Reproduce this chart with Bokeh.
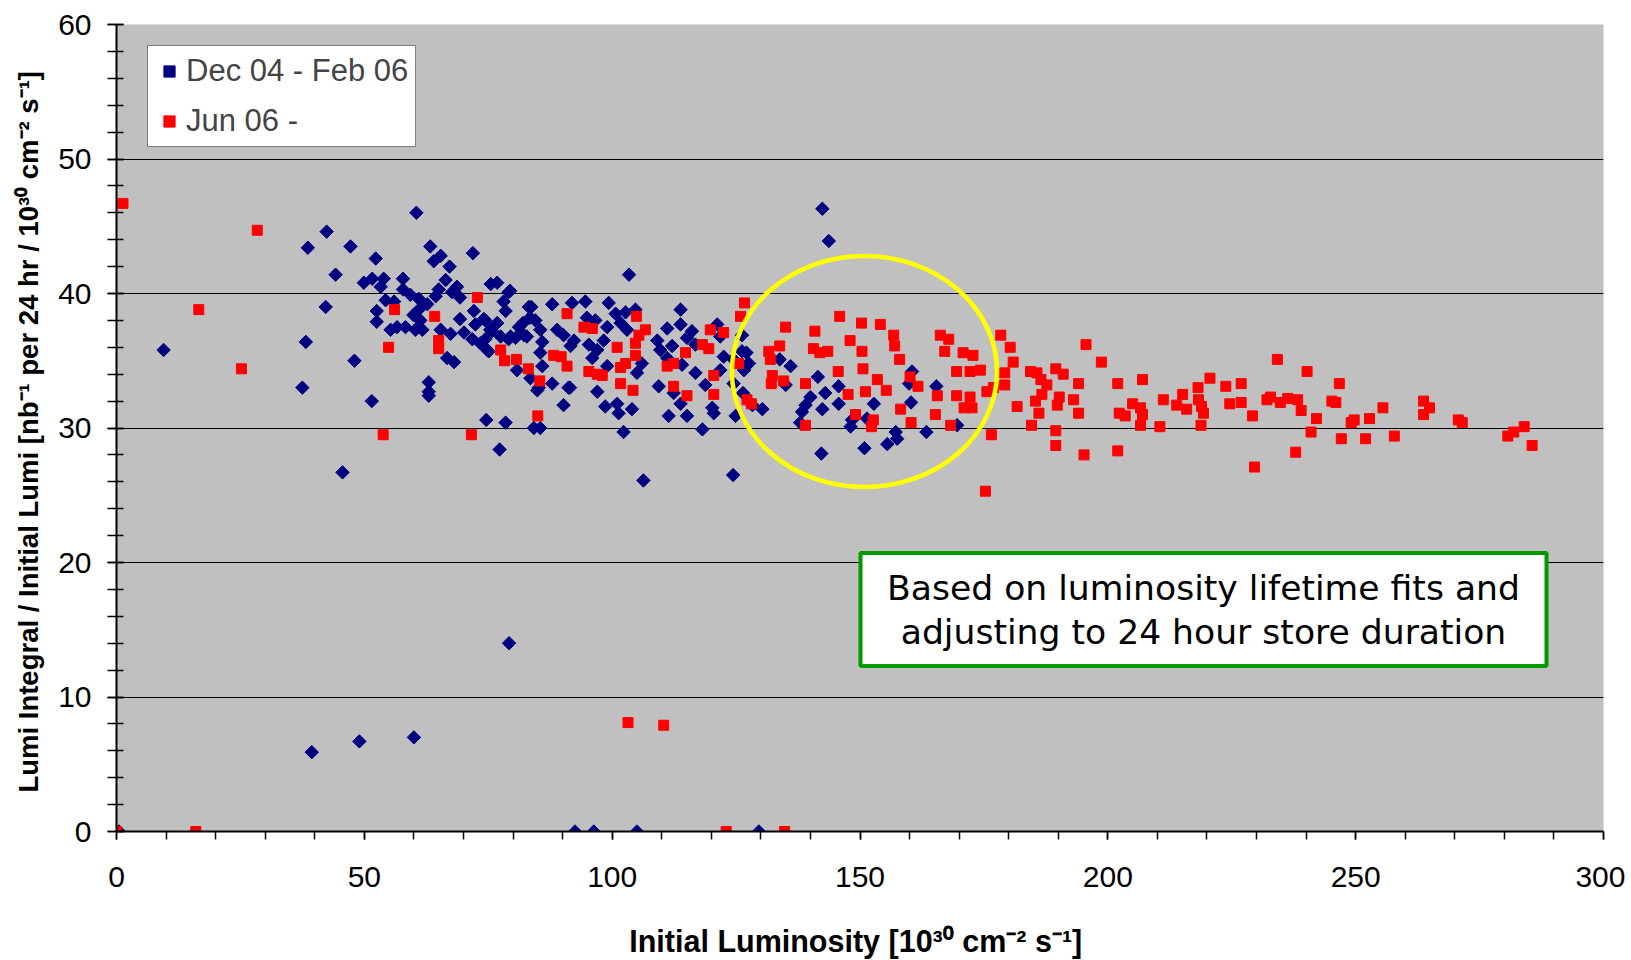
import numpy as np
from bokeh.plotting import figure
from bokeh.models import FixedTicker, BoxAnnotation, Label
from bokeh.embed import file_html
from bokeh.resources import INLINE

# ---------------- data ----------------
# Series "Dec 04 - Feb 06" (blue diamonds)
blue_pts = [
    (0.5, 0), (9.5, 35.8), (37.5, 33.0), (38.2, 36.4), (38.6, 43.4), (42.4, 44.6), (42.2, 39.0),
    (44.2, 41.4), (45.6, 26.7), (47.2, 43.5), (48.0, 35.0), (49.9, 40.8), (51.6, 41.1), (51.5, 32.0),
    (52.3, 42.6), (39.4, 5.9), (49.0, 6.7), (60.0, 7.0), (79.2, 14.0), (92.5, 0), (96.3, 0),
    (105.0, 0), (129.6, 0), (60.5, 46.0), (142.4, 46.3), (143.7, 43.9), (63.0, 33.4), (63.0, 32.7),
    (63.0, 32.4), (74.6, 30.6), (77.3, 28.4), (78.5, 30.4), (84.2, 30.0), (85.5, 30.0), (91.2, 33.0),
    (103.4, 41.4), (106.3, 26.1), (102.3, 29.7), (124.4, 26.5), (142.2, 28.1),
    (53.9, 41.1), (53.3, 40.5), (57.8, 41.1), (57.8, 40.3), (59.3, 39.9), (61.0, 39.6), (63.3, 43.5),
    (65.4, 42.8), (64.0, 42.4), (67.2, 42.0), (71.9, 43.0), (66.4, 41.0), (65.0, 40.3), (68.7, 40.5),
    (69.3, 39.7), (67.7, 40.1), (64.4, 39.8), (62.7, 39.2), (75.5, 40.7), (76.8, 40.8), (79.4, 40.2),
    (78.1, 39.4), (54.3, 39.5), (56.0, 39.4), (52.5, 38.7), (52.5, 37.9), (55.3, 37.3), (56.6, 37.5),
    (58.3, 37.5), (59.9, 38.4), (61.0, 38.8), (60.3, 37.3), (61.7, 37.3), (61.3, 38.0), (65.4, 37.3),
    (67.4, 37.0), (69.3, 38.1), (70.1, 37.1), (72.1, 38.7), (72.4, 37.7), (71.8, 36.6), (74.1, 38.1),
    (73.4, 36.3), (75.1, 35.7), (75.8, 37.2), (76.8, 37.8), (78.5, 38.7), (77.5, 36.8), (79.5, 36.8),
    (81.2, 37.5), (82.2, 36.9), (80.8, 34.3), (83.2, 39.0), (83.4, 38.2), (66.7, 35.2), (68.1, 34.9),
    (74.4, 38.0), (75.4, 37.3), (74.4, 36.6), (74.8, 35.8), (79.1, 36.6), (80.5, 36.7), (79.1, 40.1),
    (83.5, 33.7), (85.2, 33.0),
    (83.7, 39.0), (87.9, 39.2), (91.9, 39.3), (94.6, 39.4), (99.3, 39.3), (100.7, 38.5), (102.7, 38.6),
    (104.7, 38.8), (113.8, 38.8), (82.0, 37.8), (84.5, 38.0), (85.5, 37.3), (88.9, 37.3), (90.2, 36.9),
    (92.3, 36.5), (94.9, 38.2), (96.6, 38.0), (99.0, 37.5), (101.7, 37.8), (103.0, 37.3), (98.3, 36.5),
    (95.3, 36.2), (97.0, 35.8), (91.6, 36.1), (85.9, 36.4), (82.8, 36.8), (85.5, 35.6), (85.9, 34.6),
    (87.9, 33.3), (84.9, 32.8), (91.5, 33.0), (90.2, 31.7), (97.0, 32.7), (98.6, 31.6), (101.0, 31.8),
    (101.3, 31.1), (104.0, 31.4), (96.0, 35.2), (99.0, 34.6), (105.0, 34.1), (106.0, 34.8), (109.1, 36.5),
    (109.7, 35.8), (111.1, 37.4), (113.8, 37.7), (112.1, 36.1), (116.1, 37.2), (115.1, 36.7), (116.8, 36.2),
    (111.1, 35.2), (109.4, 33.1), (112.4, 32.6), (113.8, 31.8), (115.1, 30.9), (111.4, 30.9), (116.8, 34.1),
    (118.8, 33.2), (120.2, 31.5), (118.2, 29.9), (120.5, 31.1), (121.2, 37.7), (121.8, 36.8), (122.5, 35.3),
    (121.8, 34.3), (124.5, 35.1), (126.2, 35.7), (126.9, 34.6), (124.9, 30.9), (124.5, 33.3), (114.1, 34.7),
    (126.2, 36.9), (127.1, 35.6), (127.6, 34.8), (126.6, 34.3), (126.4, 32.6), (128.3, 31.7), (130.3, 31.4),
    (133.8, 35.1), (136.0, 34.6), (135.0, 33.2), (141.5, 33.8), (143.0, 32.6), (145.7, 33.1), (145.7, 31.8),
    (140.0, 32.3), (139.0, 31.7), (138.3, 31.2), (137.9, 30.4), (142.4, 31.4), (148.4, 30.6), (148.1, 30.1),
    (151.4, 30.7), (152.8, 31.8), (150.9, 28.5), (155.5, 28.8), (157.5, 29.2), (157.2, 29.7), (160.5, 34.2),
    (159.9, 33.3), (160.3, 31.9), (163.4, 29.7), (165.4, 33.1), (169.6, 30.2),
]
blue_x = [p_[0] for p_ in blue_pts]
blue_y = [p_[1] for p_ in blue_pts]

# Series "Jun 06 -" (red squares)
red_pts = [
    (0.0, 0), (16.0, 0), (123.0, 0), (134.8, 0), (103.2, 8.1), (110.4, 7.9), (1.3, 46.7), (28.4, 44.7),
    (16.6, 38.8), (25.2, 34.4), (53.8, 29.5), (54.9, 36.0), (56.1, 38.8), (64.2, 38.3), (65.0, 36.5),
    (65.0, 35.9), (71.6, 29.5), (72.8, 39.7), (77.5, 35.8), (78.3, 35.0), (80.7, 35.1), (83.1, 34.4),
    (90.9, 38.5), (94.3, 37.5), (96.0, 37.4), (104.9, 38.3), (106.7, 37.3), (105.4, 36.9), (104.7, 36.3),
    (101.0, 36.0), (104.7, 35.4), (102.7, 34.8), (101.7, 34.5), (88.2, 35.4), (89.7, 35.3), (90.9, 34.6),
    (85.4, 33.5), (95.3, 34.2), (97.0, 34.0), (98.0, 33.9), (101.7, 33.3), (104.2, 32.8), (111.1, 34.6),
    (112.4, 34.8), (114.8, 35.6), (112.4, 33.1), (115.1, 32.4), (118.2, 36.2), (119.5, 35.9), (119.8, 37.3),
    (122.5, 37.1), (120.5, 33.9), (120.5, 32.5), (85.0, 30.9), (125.9, 38.3), (126.7, 39.3), (125.5, 34.8),
    (127.2, 32.1),
    (135.0, 37.5), (133.8, 36.1), (131.6, 35.7), (131.9, 35.1), (132.3, 33.9), (132.1, 33.3), (134.6, 33.5),
    (128.1, 31.8), (139.0, 33.3), (139.0, 30.2), (140.9, 37.2), (140.6, 35.9), (141.9, 35.6), (143.5, 35.7),
    (145.9, 38.3), (145.6, 34.2), (148.0, 36.5), (150.3, 37.8), (150.4, 35.7), (150.6, 34.4), (147.6, 32.5),
    (151.1, 32.7), (149.1, 31.0), (152.7, 30.6), (152.3, 30.1), (154.1, 37.7), (156.8, 36.9), (157.0, 36.1),
    (158.0, 35.1), (153.5, 33.6), (155.3, 32.8), (158.2, 31.4), (160.3, 30.4), (160.1, 33.8), (161.7, 33.1),
    (166.2, 36.9), (167.9, 36.6), (167.1, 35.7), (170.8, 35.6), (172.8, 35.4), (169.5, 34.2), (172.2, 34.2),
    (165.6, 32.4), (169.5, 32.4), (172.2, 32.3), (171.0, 31.5), (172.6, 31.5), (165.2, 31.0), (168.3, 30.2),
    (174.3, 34.3),
    (175.6, 32.7), (176.9, 33.0), (176.5, 29.5), (175.3, 25.3), (178.4, 36.9), (180.3, 36.0), (180.9, 34.9),
    (179.2, 34.1), (179.2, 33.2), (181.7, 31.6), (184.4, 34.2), (185.7, 34.1), (186.5, 33.6), (187.7, 33.2),
    (186.7, 32.5), (185.4, 32.0), (186.1, 31.1), (184.6, 30.2), (189.5, 34.4), (191.0, 34.0), (190.2, 32.3),
    (189.8, 31.7), (193.1, 32.1), (194.1, 33.3), (194.1, 31.1), (189.5, 29.8), (189.5, 28.7), (195.6, 36.2),
    (198.7, 34.9), (195.2, 28.0), (202.0, 33.3), (202.3, 31.1), (203.5, 30.9), (202.0, 28.3), (207.0, 33.6),
    (205.0, 31.8), (206.6, 31.5), (207.0, 31.0), (206.6, 30.2), (210.5, 30.1), (211.2, 32.1), (213.9, 31.7),
    (215.1, 32.5), (215.9, 31.4), (218.2, 33.0), (218.3, 32.1), (218.9, 31.6), (219.3, 31.1), (218.8, 30.2),
    (220.6, 33.7), (223.8, 33.1), (224.6, 31.8), (226.9, 33.3), (226.9, 31.9), (229.2, 30.9), (229.6, 27.1),
    (232.1, 32.1), (232.8, 32.3), (234.8, 31.9), (236.3, 32.2), (234.2, 35.1), (238.3, 32.1), (239.0, 31.3),
    (237.9, 28.2), (240.2, 34.2), (241.0, 29.7), (242.1, 30.7), (245.2, 32.0), (246.0, 31.9), (246.7, 33.3),
    (247.1, 29.2), (249.1, 30.4), (249.7, 30.6), (252.0, 29.2), (252.8, 30.7), (255.5, 31.5), (257.8, 29.4),
    (263.7, 32.0), (264.9, 31.5), (263.7, 31.0), (270.7, 30.6), (271.5, 30.4), (280.7, 29.4), (281.9, 29.7),
    (284.0, 30.1), (285.6, 28.7),
]
red_x = [p_[0] for p_ in red_pts]
red_y = [p_[1] for p_ in red_pts]

series_names = ["Dec 04 - Feb 06", "Jun 06 -"]
x_ticks = [0, 50, 100, 150, 200, 250, 300]
y_ticks = [0, 10, 20, 30, 40, 50, 60]
note_lines = ["Based on luminosity lifetime fits and", "adjusting to 24 hour store duration"]
x_title = "Initial Luminosity  [10\u00b3\u2070 cm\u207b\u00b2 s\u207b\u00b9]"
y_title = "Lumi Integral / Initial Lumi  [nb\u207b\u00b9 per 24 hr / 10\u00b3\u2070 cm\u207b\u00b2 s\u207b\u00b9]"

# highlight ellipse (data units) and note box (data units)
ell_cx, ell_cy, ell_w, ell_h = 150.9, 34.2, 53.5, 17.2
box_l, box_r, box_b, box_t = 150.1, 288.5, 12.3, 20.7

# ---------------- figure ----------------
FW, FH = 1487, 808
ML, MT = 116, 24
W, H = 1625, 960
p = figure(width=W, height=H, x_range=(0, 300), y_range=(0, 60),
           output_backend="svg", toolbar_location=None,
           min_border_left=ML, min_border_right=W - ML - FW,
           min_border_top=MT, min_border_bottom=H - MT - FH)
p.background_fill_color = "#C0C0C0"
p.border_fill_color = "white"
p.outline_line_color = None

p.xgrid.visible = False
p.ygrid.grid_line_color = "black"
p.ygrid.grid_line_width = 1

p.xaxis.ticker = FixedTicker(ticks=x_ticks, minor_ticks=list(range(0, 301, 10)))
p.yaxis.ticker = FixedTicker(ticks=y_ticks, minor_ticks=list(range(0, 61, 2)))

for ax in (p.xaxis[0], p.yaxis[0]):
    ax.axis_line_color = "black"
    ax.axis_line_width = 2
    ax.major_tick_line_color = "black"
    ax.minor_tick_line_color = "black"
    ax.major_tick_line_width = 1.5
    ax.minor_tick_line_width = 1.5
    ax.major_label_text_font = "Liberation Sans"
    ax.major_label_text_font_size = "30px"
    ax.major_label_text_color = "black"
    ax.axis_label_text_font = "Liberation Sans"
    ax.axis_label_text_font_style = "bold"
    ax.axis_label_text_color = "black"

p.xaxis.major_tick_in = 0
p.xaxis.major_tick_out = 8
p.xaxis.minor_tick_in = 0
p.xaxis.minor_tick_out = 8
p.xaxis.major_label_standoff = 27
p.xaxis.axis_label_standoff = 34
p.xaxis.axis_label_text_font_size = "30.5px"
p.xaxis.axis_label = x_title

p.yaxis.major_tick_in = 7
p.yaxis.major_tick_out = 9
p.yaxis.minor_tick_in = 7
p.yaxis.minor_tick_out = 9
p.yaxis.major_label_standoff = 16
p.yaxis.axis_label_standoff = 11
p.yaxis.axis_label_text_font_size = "27.5px"
p.yaxis.axis_label = y_title

p.scatter(blue_x, blue_y, marker="square", size=9.5, angle=np.pi / 4,
          fill_color="#000080", line_color="#000080", line_width=1,
          legend_label=series_names[0])
p.scatter(red_x, red_y, marker="square", size=10,
          fill_color="#FF0000", line_color="#FF0000", line_width=1,
          legend_label=series_names[1])

p.ellipse(x=[ell_cx], y=[ell_cy], width=[ell_w], height=[ell_h],
          fill_color=None, line_color="#FFFF00", line_width=4.5)

p.add_layout(BoxAnnotation(left=box_l, right=box_r, bottom=box_b, top=box_t,
                           fill_color="white", fill_alpha=1,
                           line_color="#009900", line_width=4, line_alpha=1))
mid_x = (box_l + box_r) / 2
for i, line in enumerate(note_lines):
    p.add_layout(Label(x=mid_x, y=box_t - (box_t - box_b) * (0.31 + 0.39 * i), text=line,
                       text_align="center", text_baseline="middle",
                       text_font="DejaVu Sans", text_font_size="34.6px", text_color="black"))

lg = p.legend[0]
lg.location = (31, 684)
lg.border_line_color = "black"
lg.border_line_width = 1
lg.background_fill_color = "white"
lg.background_fill_alpha = 1
lg.label_text_font = "Liberation Sans"
lg.label_text_font_size = "31px"
lg.glyph_width = 28
lg.glyph_height = 34
lg.label_height = 34
lg.label_standoff = 3
lg.spacing = 14
lg.padding = 7
lg.margin = 0

open("out.html", "w").write(file_html(p, INLINE))
